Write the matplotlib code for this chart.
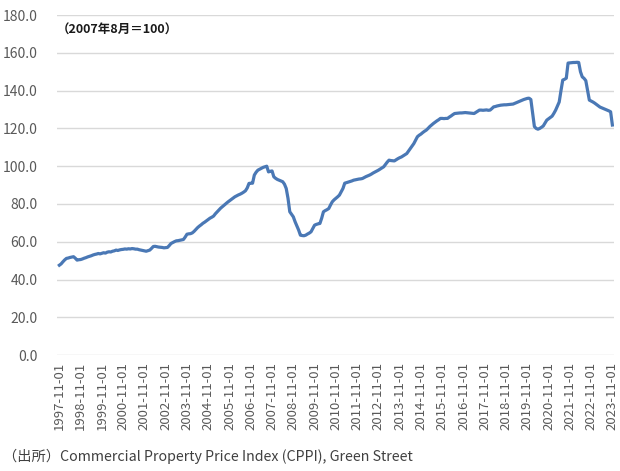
import matplotlib
matplotlib.use("Agg")
import matplotlib.pyplot as plt

plt.rcParams['font.family'] = ['Noto Sans CJK JP', 'DejaVu Sans']

start_year = 1997
start_month = 11
# Monthly CPPI values (2007-08 = 100), Nov 1997 .. Nov 2023, one row per 12 months
cppi = [
    47.6, 48.3, 49.4, 50.4, 51.2, 51.4, 51.7, 51.9, 52.1, 51.3, 50.3, 50.5,
    50.6, 50.9, 51.3, 51.6, 52.0, 52.3, 52.6, 53.0, 53.3, 53.5, 53.8, 53.6,
    53.9, 54.2, 54.0, 54.5, 54.7, 54.6, 55.0, 55.2, 55.6, 55.4, 55.7, 55.9,
    56.0, 56.2, 56.1, 56.3, 56.2, 56.4, 56.3, 56.1, 56.1, 55.8, 55.6, 55.4,
    55.2, 55.0, 55.3, 55.6, 56.5, 57.5, 57.6, 57.4, 57.2, 57.1, 57.0, 56.8,
    56.9, 57.0, 58.0, 59.1, 59.6, 60.1, 60.5, 60.6, 60.8, 61.0, 61.2, 62.5,
    64.0, 64.2, 64.3, 64.7, 65.5, 66.5, 67.5, 68.3, 69.0, 69.8, 70.4, 71.1,
    71.8, 72.5, 73.0, 73.6, 74.8, 75.8, 76.8, 77.8, 78.6, 79.4, 80.2, 81.0,
    81.7, 82.4, 83.1, 83.8, 84.3, 84.8, 85.2, 85.7, 86.3, 87.0, 88.5, 90.9,
    91.0, 91.0, 95.3, 96.8, 97.9, 98.4, 98.9, 99.4, 99.7, 100.0, 97.0, 97.3,
    97.5, 94.4, 93.6, 93.0, 92.6, 92.2, 91.8, 90.5, 88.2, 83.0, 75.9, 74.5,
    73.2, 70.6, 68.4, 66.2, 63.5, 63.3, 63.2, 63.5, 64.1, 64.6, 65.3, 67.0,
    68.8, 69.2, 69.5, 69.7, 72.5, 75.9, 76.5, 77.0, 77.6, 79.5, 81.2, 82.2,
    83.0, 83.8, 84.7, 86.5, 88.2, 91.0, 91.3, 91.6, 91.9, 92.2, 92.6, 92.8,
    93.0, 93.2, 93.3, 93.5, 94.0, 94.5, 94.9, 95.3, 95.8, 96.4, 96.9, 97.4,
    97.9, 98.5, 99.1, 99.7, 101.0, 102.2, 103.2, 103.0, 102.9, 102.8, 103.4, 104.0,
    104.5, 104.9, 105.5, 106.1, 106.7, 108.0, 109.4, 110.7, 112.0, 113.8, 115.6, 116.4,
    117.0, 117.8, 118.5, 119.1, 120.0, 121.0, 121.8, 122.6, 123.3, 124.0, 124.6, 125.3,
    125.3, 125.2, 125.3, 125.3, 126.0, 126.6, 127.3, 127.9, 128.0, 128.1, 128.2, 128.2,
    128.3, 128.4, 128.3, 128.2, 128.1, 128.0, 127.9, 128.5, 129.1, 129.7, 129.7, 129.6,
    129.7, 129.8, 129.6, 129.7, 130.5, 131.4, 131.6, 131.9, 132.1, 132.3, 132.4, 132.5,
    132.5, 132.6, 132.7, 132.8, 132.9, 133.3, 133.7, 134.1, 134.5, 134.9, 135.3, 135.6,
    135.9, 136.0, 135.3, 128.0, 121.0, 120.0, 119.6, 120.0, 120.6, 121.3, 122.8, 124.4,
    125.1, 125.8, 126.5, 128.0, 129.7, 131.8, 134.0, 140.0, 145.6, 146.0, 146.6, 154.6,
    154.7, 154.8, 154.9, 154.9, 155.0, 154.9, 150.0, 147.3, 146.5, 145.3, 140.0, 135.0,
    134.5, 134.0, 133.4, 132.7, 132.0, 131.3, 130.9, 130.5, 130.1, 129.7, 129.3, 128.8,
    121.8,
]
tick_years = list(range(1997, 2024))
tick_labels = [f"{y}-11-01" for y in tick_years]
y_ticks = [0, 20, 40, 60, 80, 100, 120, 140, 160, 180]
note_text = "（2007年8月＝100）"
source_text = "（出所）Commercial Property Price Index (CPPI), Green Street"

fig = plt.figure(figsize=(6.2, 4.71), dpi=100)
ax = fig.add_axes([0.092, 0.246, 0.898, 0.722])

months = list(range(len(cppi)))
ax.plot(months, cppi, color='#4A78B5', linewidth=2.3, solid_joinstyle='round')

ax.set_ylim(0, 180)
ax.set_xlim(-1.3, 312.8)
ax.set_yticks(y_ticks)
ax.set_yticklabels([f"{v:.1f}" for v in y_ticks], fontsize=10, color='#595959')
tick_pos = [(y - start_year) * 12 for y in tick_years]
ax.set_xticks(tick_pos)
ax.set_xticklabels(tick_labels, rotation=90, fontsize=9.5, color='#595959')
ax.tick_params(length=0, pad=5)
ax.tick_params(axis='y', pad=14)
ax.grid(axis='y', color='#D9D9D9', linewidth=1)
ax.set_axisbelow(True)
for s in ax.spines.values():
    s.set_visible(False)

ax.text(0.0, 0.955, note_text, transform=ax.transAxes, fontsize=9,
        color='#1a1a1a', va='center', ha='left', fontweight='bold')
fig.text(0.005, 0.03, source_text, fontsize=10.25, color='#404040',
         ha='left', va='center')

fig.savefig("out.png", dpi=100)
